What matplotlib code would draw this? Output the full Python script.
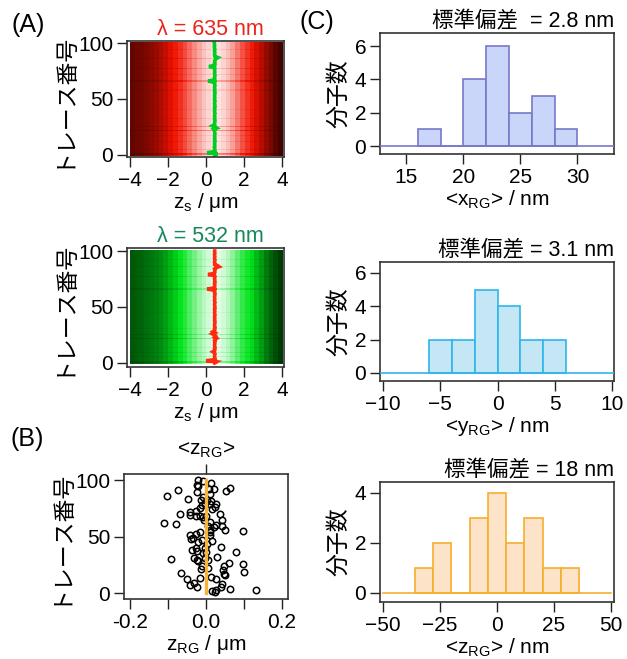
"""Figure: centroid traces (A), z_RG scatter (B) and histograms of <x,y,z_RG> (C)."""

import matplotlib

matplotlib.use("Agg")
import matplotlib.pyplot as plt
import numpy as np
from matplotlib.colors import LinearSegmentedColormap

plt.rcParams["font.family"] = ["Liberation Sans", "Noto Sans CJK JP", "DejaVu Sans"]
plt.rcParams["mathtext.fontset"] = "custom"
plt.rcParams["mathtext.rm"] = "Liberation Sans"
plt.rcParams["mathtext.it"] = "Liberation Sans"
plt.rcParams["mathtext.default"] = "regular"

# ---- (A) intensity profiles along z_s (32 columns, -4 .. 4 um)
profile_635 = [0.16, 0.18, 0.19, 0.21, 0.24, 0.27, 0.31, 0.36, 0.42, 0.47, 0.52,
               0.58, 0.66, 0.73, 0.80, 0.86, 0.90, 0.93, 0.93, 0.90, 0.85, 0.78,
               0.69, 0.60, 0.53, 0.47, 0.40, 0.33, 0.26, 0.20, 0.14, 0.09]
profile_532 = [0.14, 0.16, 0.17, 0.19, 0.21, 0.23, 0.26, 0.30, 0.35, 0.40, 0.46,
               0.53, 0.62, 0.70, 0.78, 0.85, 0.90, 0.94, 0.94, 0.90, 0.84, 0.76,
               0.66, 0.56, 0.49, 0.43, 0.36, 0.29, 0.22, 0.17, 0.12, 0.08]
dark_rows_635 = {1: 0.8, 2: 0.75, 5: 0.93, 12: 0.94, 18: 0.95, 22: 0.8, 26: 0.85,
                 33: 0.95, 41: 0.96, 58: 0.95, 66: 0.85, 72: 0.94, 77: 0.9, 86: 0.9, 94: 0.95}
dark_rows_532 = {1: 0.8, 2: 0.78, 6: 0.92, 10: 0.9, 14: 0.94, 22: 0.8, 26: 0.85, 31: 0.94,
                 45: 0.96, 66: 0.85, 70: 0.95, 77: 0.88, 86: 0.9, 92: 0.94}

# peak position per trace (trace 0 .. 100)
peak_635 = [0.45, 0.60, 0.05, 0.47, 0.44, 0.46, 0.45, 0.43, 0.46, 0.45,
            0.44, 0.46, 0.45, 0.47, 0.44, 0.45, 0.46, 0.44, 0.45, 0.47,
            0.45, 0.44, 0.46, 0.40, 0.56, 0.46, 0.33, 0.45, 0.44, 0.46,
            0.45, 0.47, 0.44, 0.45, 0.46, 0.44, 0.45, 0.47, 0.45, 0.44,
            0.46, 0.45, 0.44, 0.47, 0.45, 0.46, 0.44, 0.45, 0.47, 0.45,
            0.44, 0.46, 0.45, 0.44, 0.46, 0.45, 0.47, 0.44, 0.45, 0.46,
            0.44, 0.45, 0.47, 0.45, 0.44, 0.46, 0.10, 0.45, 0.46, 0.44,
            0.45, 0.47, 0.45, 0.44, 0.46, 0.45, 0.44, 0.46, 0.45, 0.15,
            0.45, 0.47, 0.44, 0.46, 0.45, 0.48, 0.52, 0.62, 0.46, 0.45,
            0.44, 0.46, 0.45, 0.44, 0.46, 0.45, 0.44, 0.43, 0.45, 0.44, 0.43]
peak_532 = [0.45, 0.55, 0.00, 0.48, 0.45, 0.46, 0.44, 0.45, 0.47, 0.44,
            0.35, 0.45, 0.46, 0.44, 0.47, 0.45, 0.44, 0.46, 0.45, 0.47,
            0.44, 0.46, 0.55, 0.44, 0.50, 0.45, 0.33, 0.46, 0.36, 0.45,
            0.46, 0.44, 0.47, 0.45, 0.44, 0.46, 0.45, 0.47, 0.44, 0.45,
            0.46, 0.44, 0.45, 0.47, 0.45, 0.44, 0.46, 0.45, 0.44, 0.47,
            0.45, 0.46, 0.44, 0.45, 0.47, 0.45, 0.44, 0.46, 0.45, 0.44,
            0.46, 0.45, 0.47, 0.44, 0.45, 0.46, 0.05, 0.45, 0.44, 0.46,
            0.45, 0.44, 0.47, 0.45, 0.46, 0.44, 0.45, 0.47, 0.45, 0.10,
            0.44, 0.46, 0.45, 0.47, 0.44, 0.50, 0.68, 0.60, 0.45, 0.46,
            0.44, 0.45, 0.47, 0.45, 0.44, 0.46, 0.45, 0.44, 0.46, 0.45, 0.45]

# ---- (B) z_RG per trace
zrg = [-0.020, -0.008, -0.025, -0.022, 0.013, -0.075, 0.021, 0.064, 0.052, -0.104,
       -0.024, 0.007, -0.048, -0.007, 0.010, 0.003, 0.013, 0.011, 0.027, -0.010,
       -0.015, 0.024, -0.027, -0.043, -0.069, 0.015, 0.036, -0.041, -0.027, -0.017,
       -0.008, 0.001, 0.043, -0.111, -0.079, -0.006, 0.010, 0.006, 0.027, 0.020,
       0.041, 0.011, 0.050, 0.096, -0.015, -0.027, -0.041, -0.034, -0.039, 0.011,
       0.010, -0.010, 0.017, -0.022, 0.003, 0.039, -0.027, -0.036, -0.024, -0.004,
       0.001, -0.008, 0.078, 0.029, -0.092, -0.031, -0.025, -0.020, -0.004, 0.004,
       0.061, 0.098, 0.047, -0.011, -0.013, 0.006, 0.045, 0.101, 0.048, -0.066,
       0.050, -0.017, 0.013, 0.027, -0.050, -0.031, -0.041, -0.025, 0.043, 0.039,
       0.062, 0.017, 0.024, 0.027, 0.132, -0.004, -0.013]
zrg_trace = [100, 99, 96, 95, 97, 91, 92, 93, 90, 86,
             89, 92, 83, 85, 88, 82, 81, 79, 79, 78,
             75, 76, 73, 72, 70, 74, 70, 69, 68, 68,
             67, 68, 65, 62, 61, 65, 63, 59, 60, 58,
             59, 56, 56, 55, 54, 52, 51, 49, 48, 54,
             51, 47, 46, 45, 43, 41, 40, 38, 37, 40,
             36, 35, 36, 32, 30, 31, 29, 28, 31, 29,
             27, 26, 24, 24, 21, 22, 20, 19, 17, 18,
             16, 13, 14, 12, 12, 9, 7, 5, 8, 5,
             4, 2, 1, 3, 3, 80, 82]

# ---- (C) histograms
x_edges = [16, 18, 20, 22, 24, 26, 28, 30]
x_counts = [1, 0, 4, 6, 2, 3, 1]
y_edges = [-6, -4, -2, 0, 2, 4, 6]
y_counts = [2, 2, 5, 4, 2, 2]
z_edges = [-36, -28, -20, -12, -4, 4, 12, 20, 28, 36]
z_counts = [1, 2, 0, 3, 4, 2, 3, 1, 1]

FS = 15
TICK = dict(direction="out", length=7, width=1.0, labelsize=FS, pad=3, color="#222222")
FRAME = "#333333"


def style(ax):
    for s in ax.spines.values():
        s.set_color(FRAME)
        s.set_linewidth(1.2)
    ax.tick_params(**TICK)


def heatmap(ax, profile, dark_rows, cmap, peak, line_col, title, title_col):
    gain = np.ones(len(peak))
    for r, g in dark_rows.items():
        gain[r] = g
    img = np.outer(gain, profile)
    ax.imshow(img, cmap=cmap, vmin=0, vmax=1, aspect="auto", origin="lower",
              extent=[-4, 4, -0.5, len(peak) - 0.5], interpolation="nearest")
    ax.plot(peak, np.arange(len(peak)), color=line_col, lw=2.6, solid_joinstyle="miter")
    ax.set_xlim(-4.16, 4.1)
    ax.set_xticks([-4, -2, 0, 2, 4])
    ax.set_yticks([0, 50, 100])
    ax.set_ylabel("トレース番号", fontsize=16.5, labelpad=3)
    ax.set_xlabel(r"z$_s$ / μm", fontsize=FS, labelpad=1)
    ax.set_title(title, color=title_col, fontsize=15.5, pad=4, x=0.53)
    style(ax)


def hist(ax, edges, counts, face, edge, base, xlim, ylim, xticks, yticks, title, xlabel):
    left = edges[:-1]
    widths = np.diff(edges)
    ax.bar(left, counts, width=widths, align="edge", color=face, edgecolor=edge, lw=1.2,
           zorder=2)
    ax.plot(base, [0, 0], color=edge, lw=1.2, zorder=3)
    ax.set_xlim(*xlim)
    ax.set_ylim(*ylim)
    ax.set_xticks(xticks)
    ax.set_yticks(yticks)
    ax.set_ylabel("分子数", fontsize=16.5, labelpad=3)
    ax.set_xlabel(xlabel, fontsize=FS, labelpad=1)
    ax.set_title(title, loc="right", fontsize=15.5, pad=4)
    style(ax)


fig = plt.figure(figsize=(6.27, 6.59), dpi=100)

red = LinearSegmentedColormap.from_list("r", [(0, "#1a0000"), (0.45, "#f01200"), (1, "#ffffff")])
green = LinearSegmentedColormap.from_list("g", [(0, "#001a00"), (0.45, "#00e41c"), (1, "#ffffff")])

ax1 = fig.add_axes([0.2026, 0.7618, 0.2504, 0.1760])
heatmap(ax1, profile_635, dark_rows_635, red, peak_635, "#00cc22", "λ = 635 nm", "#e8251c")
ax1.set_ylim(-1.8, 101.8)

ax2 = fig.add_axes([0.2026, 0.4431, 0.2504, 0.1806])
heatmap(ax2, profile_532, dark_rows_532, green, peak_532, "#ff2a10", "λ = 532 nm", "#15885a")
ax2.set_ylim(-3.6, 102.7)

# (B)
axb = fig.add_axes([0.1978, 0.0910, 0.2616, 0.1897])
axb.plot(zrg, zrg_trace, "o", ms=4.6, mfc="none", mec="black", mew=1.1, zorder=2)
axb.plot([0, 0], [0, 100], color="#f9b23c", lw=2.4, zorder=3)
axb.set_xlim(-0.2158, 0.2158)
axb.set_ylim(-5.3, 105.3)
axb.set_xticks([-0.2, -0.1, 0.0, 0.1, 0.2], labels=["-0.2", "", "0.0", "", "0.2"])
axb.set_yticks([0, 50, 100])
axb.set_ylabel("トレース番号", fontsize=16.5, labelpad=3)
axb.set_xlabel(r"z$_{RG}$ / μm", fontsize=FS, labelpad=1)
style(axb)
top = axb.secondary_xaxis("top")
top.set_xticks([0], labels=[r"<z$_{RG}$>"])
top.tick_params(**TICK)
top.spines["top"].set_visible(False)

# (C)
axc1 = fig.add_axes([0.6061, 0.7663, 0.3732, 0.1836])
hist(axc1, x_edges, x_counts, "#c9d5f9", "#7878c8", [12.7, 33.2], (12.7, 33.2), (-0.48, 6.78),
     [15, 20, 25, 30], [0, 2, 4, 6], "標準偏差  = 2.8 nm", r"<x$_{RG}$> / nm")
axc2 = fig.add_axes([0.6061, 0.4219, 0.3732, 0.1806])
hist(axc2, y_edges, y_counts, "#c4e6f5", "#2db6ea", [-10.26, 10.17], (-10.26, 10.17), (-0.48, 6.66),
     [-10, -5, 0, 5, 10], [0, 2, 4, 6], "標準偏差 = 3.1 nm", r"<y$_{RG}$> / nm")
axc3 = fig.add_axes([0.6061, 0.0865, 0.3732, 0.1821])
hist(axc3, z_edges, z_counts, "#fde3c8", "#f6ae2d", [-50, 50], (-51.3, 51.3), (-0.36, 4.44),
     [-50, -25, 0, 25, 50], [0, 2, 4], "標準偏差 = 18 nm", r"<z$_{RG}$> / nm")

fig.text(0.019, 0.962, "(A)", fontsize=18, ha="left", va="center")
fig.text(0.016, 0.334, "(B)", fontsize=18, ha="left", va="center")
fig.text(0.478, 0.967, "(C)", fontsize=18, ha="left", va="center")

fig.savefig("out.png", dpi=100)
